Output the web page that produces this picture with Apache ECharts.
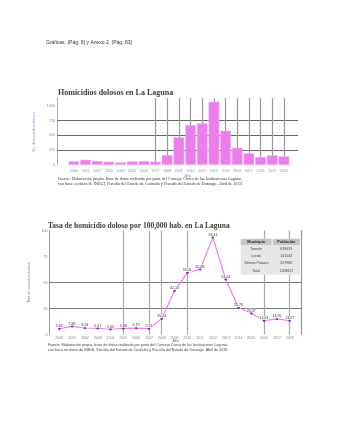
<!DOCTYPE html>
<html>
<head>
<meta charset="utf-8">
<script src="https://cdn.jsdelivr.net/npm/echarts@6/dist/echarts.min.js"></script>
<style>
  html, body { margin: 0; padding: 0; background: #fff; }
  #c { width: 338px; height: 437px; }
</style>
</head>
<body>
<div id="c"></div>
<script>
// Years shared by both charts
const years = ['2000','2001','2002','2003','2004','2005','2006','2007','2008','2009',
               '2010','2011','2012','2013','2014','2015','2016','2017','2018'];

// Intentional homicides per year (La Laguna metro area)
const homicidios = [62, 88, 67, 55, 45, 60, 67, 56, 168, 466, 673, 702, 1066, 578, 291, 197, 135, 163, 146];

// Homicide rate per 100,000 inhabitants
const tasa = [5.62, 7.86, 6.24, 5.91, 5.03, 5.88, 6.19, 5.57, 15.24, 42.15, 59.41, 62.68, 93.41, 53.04, 25.79, 20.37, 13.31, 14.95, 13.27];

// Horizontal reference levels and vertical guide years
const countLevels = [250, 500, 750];
const rateLevels = [25, 50];
const countGuides = ['2007','2008','2009','2010','2011','2012','2013','2014','2015','2016','2017','2018'];
const rateGuides = ['2005','2007','2008','2010','2016','2018'];

// Population table
const municipios = ['Torreón', 'Lerdo', 'Gómez Palacio', 'Total'];
const poblacion = ['639629', '141043', '327985', '1108657'];

const serif = "'Liberation Serif', 'DejaVu Serif', serif";
const sans = "'Liberation Sans', Arial, sans-serif";
const blueGray = '#7f97bd';

const chart = echarts.init(document.getElementById('c'), null, { renderer: 'canvas' });

// Table graphic (header + rows)
const tbl = { x: 240.7, y: 238.7, w1: 31, w2: 27.3, gap: 1, hh: 6.3, rh: 7.3 };
const tableEls = [
  { type: 'rect', shape: { x: tbl.x, y: tbl.y, width: tbl.w1, height: tbl.hh }, style: { fill: '#c6c6c6' }, z: 100 },
  { type: 'rect', shape: { x: tbl.x + tbl.w1 + tbl.gap, y: tbl.y, width: tbl.w2, height: tbl.hh }, style: { fill: '#c6c6c6' }, z: 100 },
  { type: 'rect', shape: { x: tbl.x, y: tbl.y + tbl.hh, width: tbl.w1 + tbl.gap + tbl.w2, height: tbl.rh * municipios.length + 0.5 }, style: { fill: '#e7e7e7' }, z: 100 },
  { type: 'text', x: tbl.x + tbl.w1 / 2, y: tbl.y + tbl.hh / 2, z: 101,
    style: { text: 'Municipio', fontSize: 3.8, fontWeight: 'bold', fontFamily: sans, fill: '#222', align: 'center', verticalAlign: 'middle' } },
  { type: 'text', x: tbl.x + tbl.w1 + tbl.gap + tbl.w2 / 2, y: tbl.y + tbl.hh / 2, z: 101,
    style: { text: 'Población', fontSize: 3.8, fontWeight: 'bold', fontFamily: sans, fill: '#222', align: 'center', verticalAlign: 'middle' } }
];
municipios.forEach((m, i) => {
  const cy = tbl.y + tbl.hh + tbl.rh * (i + 0.5);
  tableEls.push({ type: 'text', x: tbl.x + tbl.w1 / 2, y: cy, z: 101,
    style: { text: m, fontSize: 3.6, fontFamily: sans, fill: '#444', align: 'center', verticalAlign: 'middle' } });
  tableEls.push({ type: 'text', x: tbl.x + tbl.w1 + tbl.gap + tbl.w2 / 2, y: cy, z: 101,
    style: { text: poblacion[i], fontSize: 3.6, fontFamily: sans, fill: '#444', align: 'center', verticalAlign: 'middle' } });
});

const option = {
  animation: false,
  backgroundColor: '#fff',
  title: [
    { text: 'Gráficas. (Pág. 6) y Anexo 2. (Pág. 83)', left: 46, top: 40.5, padding: 0,
      textStyle: { fontSize: 5, fontWeight: 'normal', fontFamily: sans, color: '#333' } },
    { text: 'Homicidios dolosos en La Laguna', left: 58, top: 89, padding: 0,
      textStyle: { fontSize: 8, fontWeight: 'bold', fontFamily: serif, color: '#3d3d3d' } },
    { text: 'Año', left: 184.5, top: 173.6, padding: 0,
      textStyle: { fontSize: 3.6, fontWeight: 'normal', fontFamily: sans, color: blueGray } },
    { text: 'Fuente: Elaboración propia. Base de datos realizada por parte del Consejo Cívico de las Instituciones Laguna,\ncon base en datos de INEGI, Fiscalía del Estado de Coahuila y Fiscalía del Estado de Durango. Abril de 2019.',
      left: 58, top: 176.8, padding: 0,
      textStyle: { fontSize: 4.2, lineHeight: 4.4, fontWeight: 'normal', fontFamily: serif, color: '#333' } },
    { text: 'Tasa de homicidio doloso por 100,000 hab. en La Laguna', left: 48, top: 222, padding: 0,
      textStyle: { fontSize: 7.5, fontWeight: 'bold', fontFamily: serif, color: '#3d3d3d' } },
    { text: 'Año', left: 172.5, top: 339, padding: 0,
      textStyle: { fontSize: 3.6, fontWeight: 'normal', fontFamily: sans, color: '#666' } },
    { text: 'Fuente: Elaboración propia, base de datos realizada por parte del Consejo Cívico de las Instituciones Laguna,\ncon base en datos de INEGI, Fiscalía del Estado de Coahuila y Fiscalía del Estado de Durango. Abril de 2019.',
      left: 48, top: 343, padding: 0,
      textStyle: { fontSize: 3.7, lineHeight: 4.7, fontWeight: 'normal', fontFamily: sans, color: '#444' } }
  ],
  grid: [
    { left: 57, right: 40, top: 98.2, height: 66.8 },      // count frame
    { left: 68, right: 48.3, top: 98.2, height: 66.8 },    // count bars
    { left: 49, right: 36.3, top: 230.5, height: 104 },    // rate frame
    { left: 52.9, right: 41.9, top: 230.5, height: 104 }   // rate line
  ],
  xAxis: [
    { gridIndex: 0, type: 'value', min: 0, max: 1, show: false },
    { gridIndex: 1, type: 'category', data: years,
      axisLine: { show: false }, axisTick: { show: false },
      axisLabel: { fontSize: 3.6, color: blueGray, margin: 4, fontFamily: sans, interval: 0 } },
    { gridIndex: 2, type: 'value', min: 0, max: 1, show: false },
    { gridIndex: 3, type: 'category', data: years,
      axisLine: { show: false }, axisTick: { show: false },
      axisLabel: { fontSize: 3.6, color: '#888', margin: 1.5, fontFamily: sans, interval: 0 } }
  ],
  yAxis: [
    { gridIndex: 0, type: 'value', min: 0, max: 1125, interval: 250,
      name: 'No. de homicidios dolosos', nameLocation: 'middle', nameRotate: 90, nameGap: 11.5,
      nameTextStyle: { fontSize: 3.4, color: blueGray, fontFamily: sans },
      axisLine: { show: true, lineStyle: { color: '#aaa', width: 1 } },
      axisTick: { show: false }, splitLine: { show: false },
      axisLabel: { fontSize: 3.8, color: blueGray, margin: 2, fontFamily: sans,
        formatter: v => (v % 250 === 0 ? String(v) : '') } },
    { gridIndex: 1, type: 'value', min: 0, max: 1125, show: false },
    { gridIndex: 2, type: 'value', min: 0, max: 100, interval: 25,
      name: 'Tasa de homicidios dolosos', nameLocation: 'middle', nameRotate: 90, nameGap: 8.3,
      nameTextStyle: { fontSize: 3.3, color: '#777', fontFamily: sans },
      axisLine: { show: true, lineStyle: { color: '#999', width: 1 } },
      axisTick: { show: false }, splitLine: { show: false },
      axisLabel: { fontSize: 3.6, color: '#777', margin: 1.5, fontFamily: sans } },
    { gridIndex: 2, type: 'value', position: 'right', min: 0, max: 100,
      axisLine: { show: true, lineStyle: { color: '#999', width: 1.2 } },
      axisTick: { show: false }, axisLabel: { show: false }, splitLine: { show: false } },
    { gridIndex: 3, type: 'value', min: 0, max: 100, show: false }
  ],
  series: [
    // reference levels of the count chart
    { type: 'line', xAxisIndex: 0, yAxisIndex: 0, data: [[0, 0]], showSymbol: false,
      lineStyle: { width: 0 }, silent: true,
      markLine: { silent: true, symbol: 'none', z: 1, label: { show: false },
        lineStyle: { color: '#666', width: 1, type: 'solid' },
        data: countLevels.map(v => ({ yAxis: v })) } },
    // yearly homicide bars
    { type: 'bar', xAxisIndex: 1, yAxisIndex: 1, data: homicidios, z: 3,
      barCategoryGap: '8%',
      itemStyle: { color: '#ec7eec', borderColor: '#f4b8f4', borderWidth: 0.5 },
      markLine: { silent: true, symbol: 'none', z: 1, label: { show: false },
        lineStyle: { color: '#999', width: 1.2, type: 'solid' },
        data: countGuides.map(y => ({ xAxis: y })) } },
    // reference levels of the rate chart
    { type: 'line', xAxisIndex: 2, yAxisIndex: 2, data: [[0, 0]], showSymbol: false,
      lineStyle: { width: 0 }, silent: true,
      markLine: { silent: true, symbol: 'none', z: 1, label: { show: false },
        lineStyle: { color: '#777', width: 1, type: 'solid' },
        data: rateLevels.map(v => ({ yAxis: v })) } },
    // homicide rate line
    { type: 'line', xAxisIndex: 3, yAxisIndex: 4, data: tasa, z: 3,
      symbol: 'circle', symbolSize: 2.5, showSymbol: true,
      lineStyle: { color: '#f07df0', width: 1.2 },
      itemStyle: { color: '#7a35b5' },
      label: { show: true, position: 'top', distance: -0.5, fontSize: 3.6, color: '#333',
        fontFamily: sans, backgroundColor: 'rgba(255,255,255,0.75)', padding: [0, 0.5],
        formatter: p => p.value.toFixed(2) },
      markLine: { silent: true, symbol: 'none', z: 1, label: { show: false },
        lineStyle: { color: '#aaa', width: 1.2, type: 'solid' },
        data: rateGuides.map(y => ({ xAxis: y })) } }
  ],
  graphic: tableEls
};

chart.setOption(option);
</script>
</body>
</html>
